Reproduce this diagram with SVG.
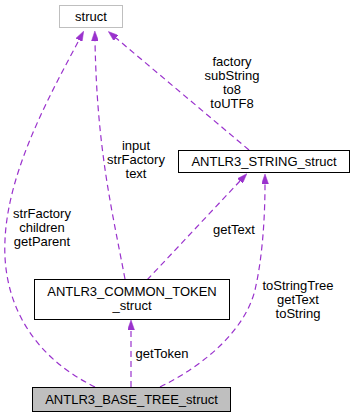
<svg xmlns="http://www.w3.org/2000/svg" width="355" height="419" viewBox="0 0 355 419">
  <style>
    text { font-family: "Liberation Sans", Arial, Helvetica, sans-serif; font-size: 13px; fill: #000; text-anchor: middle; }
    .box { fill: #fff; stroke: #000; stroke-width: 1; }
    .box.ext { stroke: #bfbfbf; }
    .box.main { fill: #bfbfbf; }
    .edge { fill: none; stroke: #9a32cd; stroke-width: 1.2; stroke-dasharray: 6,4; marker-end: url(#arrow); }
  </style>
  <defs>
    <marker id="arrow" viewBox="0 0 10 7" refX="0" refY="3.5" markerWidth="10" markerHeight="7" markerUnits="userSpaceOnUse" orient="auto">
      <path d="M0,0 L10,3.5 L0,7 z" fill="#9a32cd" stroke="#9a32cd" stroke-width="0.5"/>
    </marker>
  </defs>

  <!-- dependency edges -->
  <g id="edges">
    <path class="edge" d="M95,387 C30,355 2,300 5,240 C8,170 50,95 79,40"/>
    <path class="edge" d="M125,279 C112,210 97,150 95,41"/>
    <path class="edge" d="M249,150 L116,38"/>
    <path class="edge" d="M147,280 L240,181"/>
    <path class="edge" d="M160,387 C205,365 245,330 255,290 C262,260 265,220 265,184"/>
    <path class="edge" d="M131,387 L131,330"/>

    <text x="42" y="218">strFactory</text>
    <text x="42" y="232">children</text>
    <text x="42" y="246">getParent</text>

    <text x="136" y="150">input</text>
    <text x="136" y="164">strFactory</text>
    <text x="136" y="178">text</text>

    <text x="232" y="66">factory</text>
    <text x="232" y="80">subString</text>
    <text x="232" y="94">to8</text>
    <text x="232" y="108">toUTF8</text>

    <text x="234" y="234">getText</text>

    <text x="298" y="289.5">toStringTree</text>
    <text x="298" y="303.5">getText</text>
    <text x="298" y="317.5">toString</text>

    <text x="162" y="357.5">getToken</text>
  </g>

  <g id="node-struct">
    <rect class="box ext" x="59.5" y="5.5" width="63" height="22"/>
    <text x="91" y="21">struct</text>
  </g>

  <g id="node-string">
    <rect class="box" x="178.5" y="150.5" width="171" height="22"/>
    <text x="264" y="165.5">ANTLR3_STRING_struct</text>
  </g>

  <g id="node-common-token">
    <rect class="box" x="34.5" y="279.5" width="195" height="40"/>
    <text x="132" y="296">ANTLR3_COMMON_TOKEN</text>
    <text x="132" y="310">_struct</text>
  </g>

  <g id="node-base-tree">
    <rect class="box main" x="32.5" y="387.5" width="198" height="24"/>
    <text x="131.5" y="403.5">ANTLR3_BASE_TREE_struct</text>
  </g>
</svg>
